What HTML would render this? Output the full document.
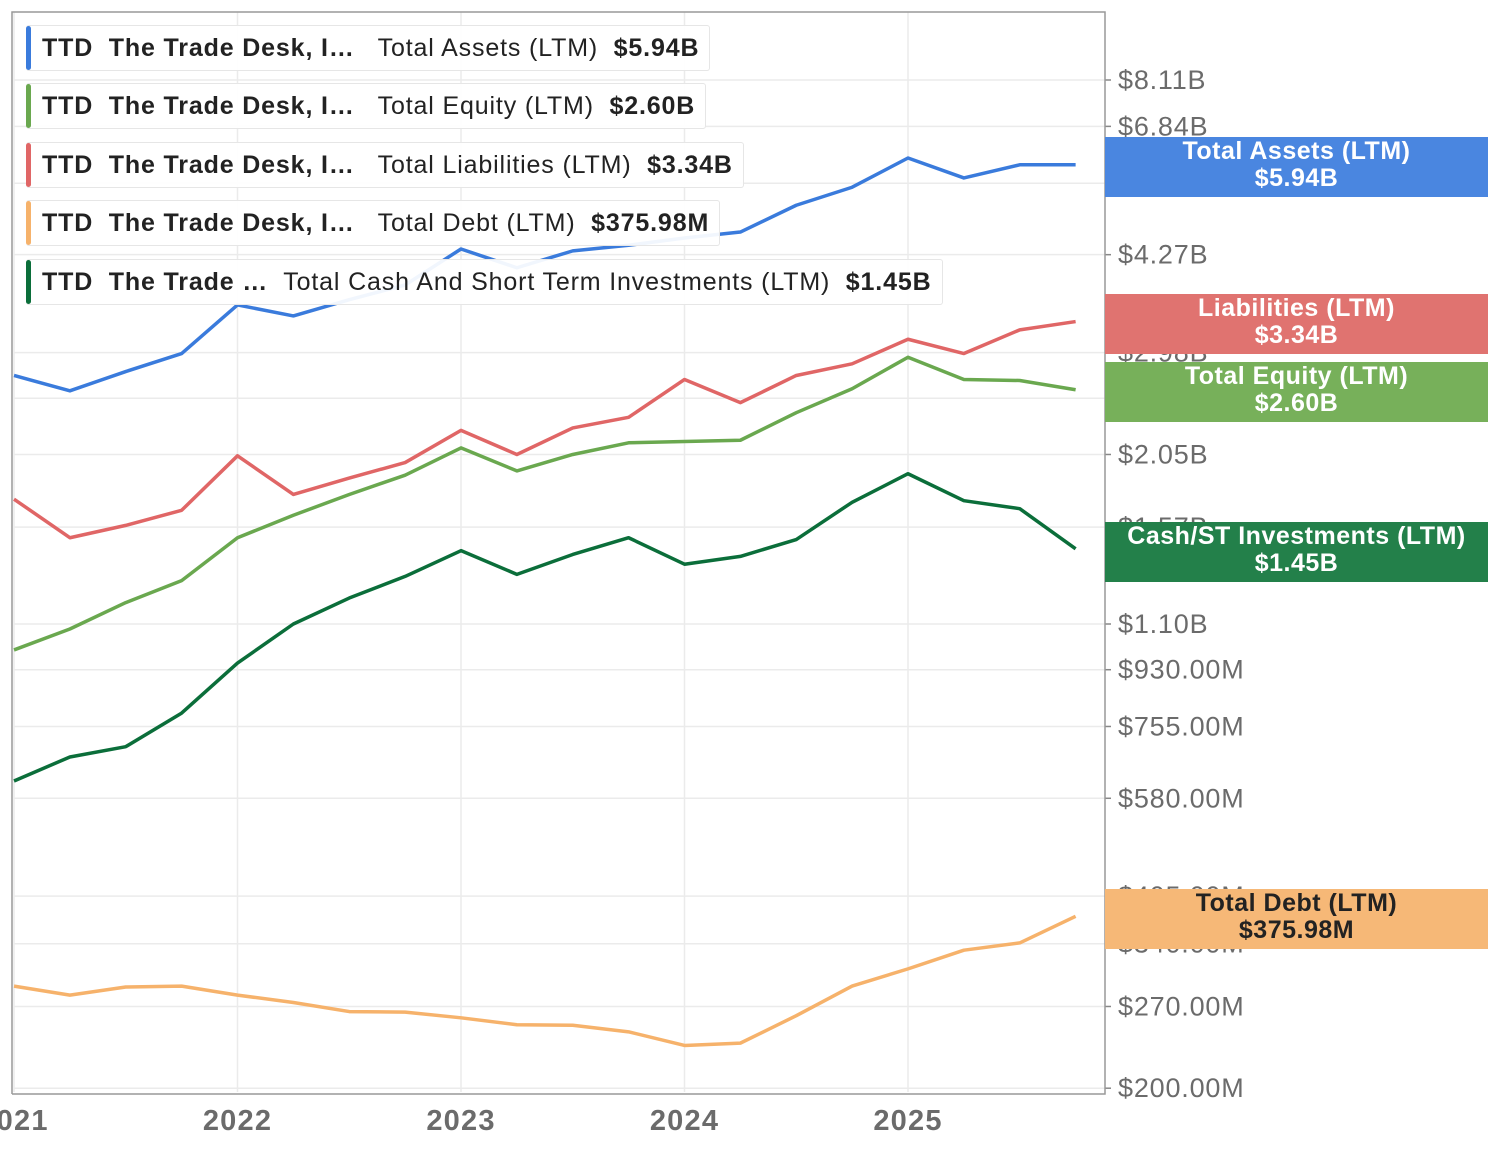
<!DOCTYPE html>
<html><head><meta charset="utf-8"><style>
body{margin:0;background:#fff;font-family:"Liberation Sans",sans-serif;}
svg{display:block}
.leg{position:absolute;left:26px;height:44px;background:rgba(255,255,255,0.93);border:1px solid #e6e6e6;border-left:none;border-radius:3px;font-size:25px;letter-spacing:0.85px;color:#222;line-height:44px;padding:0 10px 0 16px;white-space:nowrap}
.leg i{position:absolute;left:0;top:0;bottom:0;width:5px;border-radius:3px}
.leg b{font-weight:bold}
.tag{position:absolute;left:1105px;width:383px;height:60px;color:#fff;font-weight:bold;font-size:25px;letter-spacing:0.5px;text-align:center;line-height:27px;padding-top:1px;box-sizing:border-box}
</style></head><body>
<div style="position:relative;width:1496px;height:1151px;overflow:hidden">
<svg id="c" width="1496" height="1151"></svg>
<div class="leg" style="top:25px"><i style="background:#3a7bdc"></i><b>TTD&nbsp; The Trade Desk, I…</b>&nbsp;&nbsp; Total Assets (LTM)&nbsp; <b>$5.94B</b></div>
<div class="leg" style="top:83px"><i style="background:#6aa84f"></i><b>TTD&nbsp; The Trade Desk, I…</b>&nbsp;&nbsp; Total Equity (LTM)&nbsp; <b>$2.60B</b></div>
<div class="leg" style="top:142px"><i style="background:#e06666"></i><b>TTD&nbsp; The Trade Desk, I…</b>&nbsp;&nbsp; Total Liabilities (LTM)&nbsp; <b>$3.34B</b></div>
<div class="leg" style="top:200px"><i style="background:#f6b26b"></i><b>TTD&nbsp; The Trade Desk, I…</b>&nbsp;&nbsp; Total Debt (LTM)&nbsp; <b>$375.98M</b></div>
<div class="leg" style="top:259px"><i style="background:#0b6e3a"></i><b>TTD&nbsp; The Trade …</b>&nbsp; Total Cash And Short Term Investments (LTM)&nbsp; <b>$1.45B</b></div>
<div class="tag" style="top:137px;background:#4a86e0">Total Assets (LTM)<br>$5.94B</div>
<div class="tag" style="top:294px;background:#e07370">Liabilities (LTM)<br>$3.34B</div>
<div class="tag" style="top:362px;background:#77b05a">Total Equity (LTM)<br>$2.60B</div>
<div class="tag" style="top:522px;background:#23804a">Cash/ST Investments (LTM)<br>$1.45B</div>
<div class="tag" style="top:889px;background:#f6b877;color:#222">Total Debt (LTM)<br>$375.98M</div>
</div>
<script>
const tickValues=[8.11,6.84,5.55,4.27,2.98,2.52,2.05,1.57,1.10,0.93,0.755,0.58,0.405,0.34,0.27,0.20];
const tickLabels=["$8.11B","$6.84B","$5.55B","$4.27B","$2.98B","$2.52B","$2.05B","$1.57B","$1.10B","$930.00M","$755.00M","$580.00M","$405.00M","$340.00M","$270.00M","$200.00M"];
const years=[2021,2022,2023,2024,2025];
const assets=[2.74,2.59,2.78,2.97,3.55,3.41,3.62,3.82,4.36,4.07,4.33,4.42,4.54,4.64,5.12,5.47,6.09,5.66,5.94,5.94];
const liabilities=[1.74,1.51,1.58,1.67,2.04,1.77,1.88,1.99,2.24,2.05,2.26,2.35,2.70,2.48,2.74,2.86,3.13,2.97,3.24,3.34];
const equity=[1.00,1.08,1.19,1.29,1.51,1.64,1.77,1.90,2.10,1.93,2.05,2.14,2.15,2.16,2.39,2.61,2.93,2.70,2.69,2.60];
const cash=[0.618,0.675,0.701,0.793,0.953,1.10,1.21,1.31,1.44,1.32,1.42,1.51,1.37,1.41,1.50,1.72,1.91,1.73,1.68,1.45];
const debt=[0.291,0.2815,0.290,0.291,0.2815,0.274,0.265,0.2645,0.259,0.2525,0.252,0.246,0.234,0.236,0.261,0.291,0.310,0.332,0.341,0.376];
const NS="http://www.w3.org/2000/svg",svg=document.getElementById('c');
const K=272.3;
function y(v){return 80+(Math.log(8.11)-Math.log(v))*K;}
function xq(i){return 14+i*223.5/4;}
function xy(yr){return 14+(yr-2021)*223.5;}
function mk(t,a){const e=document.createElementNS(NS,t);for(const k in a)e.setAttribute(k,a[k]);svg.appendChild(e);return e;}
tickValues.forEach((v,i)=>{
 const g=mk('line',{x1:14,x2:1105,y1:y(v),y2:y(v),stroke:'#ebebeb','stroke-width':1.5});
 
 
 const t=mk('text',{x:1118,y:y(v)+9,'font-size':27,'letter-spacing':'0.8',fill:'#6b6b6b','font-family':'Liberation Sans, sans-serif'});
 t.textContent=tickLabels[i];
 
 
 mk('line',{x1:1105,x2:1111,y1:y(v),y2:y(v),stroke:'#888','stroke-width':1.5});
});
years.forEach(yr=>{
 const g=mk('line',{x1:xy(yr),x2:xy(yr),y1:12,y2:1092,stroke:'#ebebeb','stroke-width':1.5});
 
 
 const t=mk('text',{x:xy(yr),y:1130,'font-size':29,'letter-spacing':'1.2','font-weight':'bold',fill:'#6b6b6b','text-anchor':'middle','font-family':'Liberation Sans, sans-serif'});
 t.textContent=yr;
 
 
});
mk('path',{d:'M12 1094 V12 H1105 V1094 H12',fill:'none',stroke:'#999','stroke-width':1.5});
[[debt,'#f6b26b','line-total-debt'],[cash,'#0b6e3a','line-cash'],[equity,'#6aa84f','line-total-equity'],[liabilities,'#e06666','line-total-liabilities'],[assets,'#3a7bdc','line-total-assets']].forEach(([d,c,n])=>{
 const p=mk('polyline',{points:d.map((v,i)=>xq(i)+','+y(v)).join(' '),fill:'none',stroke:c,'stroke-width':3.5,'stroke-linejoin':'round'});
 
 
});
</script>
</body></html>
